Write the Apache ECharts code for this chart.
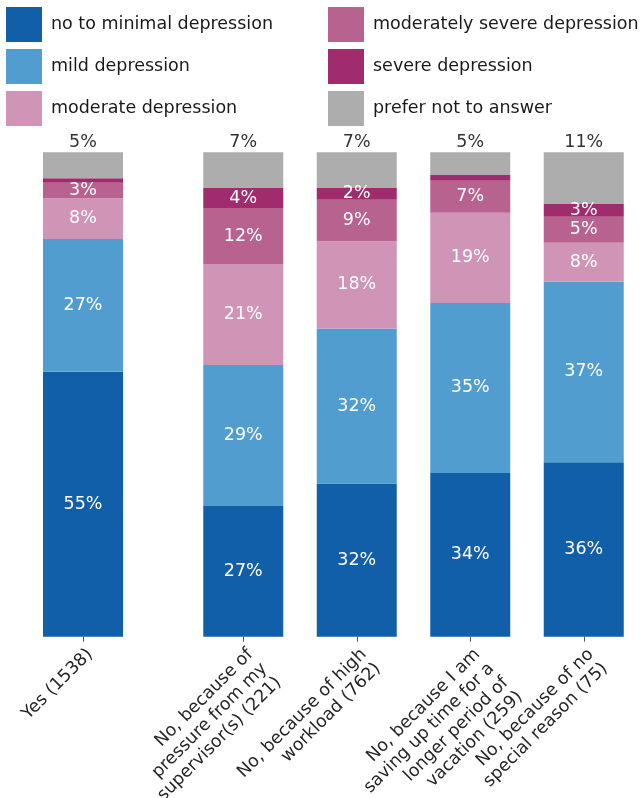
<!DOCTYPE html>
<html>
<head>
<meta charset="utf-8">
<script src="https://cdn.jsdelivr.net/npm/echarts@6/dist/echarts.min.js"></script>
<style>html,body{margin:0;padding:0;background:#fff;}#c{width:640px;height:798px;}</style>
</head>
<body>
<div id="c"></div>
<script>
const categories = [
  'Yes (1538)',
  'No, because of\npressure from my\nsupervisor(s) (221)',
  'No, because of high\nworkload (762)',
  'No, because I am\nsaving up time for a\nlonger period of\nvacation (259)',
  'No, because of no\nspecial reason (75)'
];
const seriesNames = ['no to minimal depression', 'mild depression', 'moderate depression',
  'moderately severe depression', 'severe depression', 'prefer not to answer'];
const noMinimal = [54.7, 27.0, 31.6, 33.8, 36.0];
const mild      = [27.4, 29.1, 32.0, 35.1, 37.3];
const moderate  = [8.4, 20.8, 18.0, 18.6, 8.0];
const modSevere = [3.2, 11.6, 8.6, 6.6, 5.4];
const severe    = [0.9, 4.1, 2.4, 1.2, 2.7];
const preferNot = [5.4, 7.4, 7.4, 4.7, 10.7];
const colors = ['#125fa9', '#529dcf', '#d094b6', '#b8628f', '#a12c6d', '#adadad'];

const values = [noMinimal, mild, moderate, modSevere, severe, preferNot];
const FONT = 'DejaVu Sans';
const FS = 17.5;

const chart = echarts.init(document.getElementById('c'), null, {renderer: 'canvas'});

function makeSeries(gridIdx, vals, i) {
  const isTop = i === 5;
  return {
    name: seriesNames[i],
    type: 'bar',
    stack: 'g' + gridIdx,
    xAxisIndex: gridIdx,
    yAxisIndex: gridIdx,
    barWidth: 80,
    data: vals,
    itemStyle: {color: colors[i]},
    emphasis: {disabled: true},
    label: {
      show: true,
      position: isTop ? 'top' : 'inside',
      distance: 1,
      color: isTop ? '#333333' : '#ffffff',
      fontFamily: FONT,
      fontSize: FS,
      formatter: p => (p.value >= 1.5 ? Math.round(p.value) + '%' : '')
    }
  };
}

const series = [];
values.forEach((v, i) => {
  series.push(makeSeries(0, v.slice(0, 1), i));
  series.push(makeSeries(1, v.slice(1), i));
});

function xAxisFor(gridIdx, cats) {
  return {
    type: 'category',
    gridIndex: gridIdx,
    data: cats,
    axisLine: {show: false},
    axisTick: {show: true, alignWithLabel: true, length: 5, lineStyle: {color: '#555', width: 1}},
    axisLabel: {
      interval: 0, rotate: 45, align: 'right', verticalAlign: 'top',
      margin: 8, fontFamily: FONT, fontSize: FS, lineHeight: 20, color: '#262626'
    },
    splitLine: {show: false}
  };
}
function yAxisFor(gridIdx) {
  return {type: 'value', gridIndex: gridIdx, min: 0, max: 100, show: false, splitLine: {show: false}};
}

const legendCommon = {
  orient: 'vertical', top: 7, padding: 0, itemWidth: 36, itemHeight: 35, itemGap: 7, icon: 'rect',
  textStyle: {fontFamily: FONT, fontSize: FS, color: '#1a1a1a', padding: [0, 0, 0, 4]},
  selectedMode: false
};

chart.setOption({
  animation: false,
  backgroundColor: '#ffffff',
  legend: [
    Object.assign({}, legendCommon, {left: 6, data: seriesNames.slice(0, 3)}),
    Object.assign({}, legendCommon, {left: 328, data: seriesNames.slice(3)})
  ],
  grid: [
    {left: 43, width: 80, top: 152.2, height: 484.5, containLabel: false, outerBoundsMode: 'none'},
    {left: 186.5, width: 454, top: 152.2, height: 484.5, containLabel: false, outerBoundsMode: 'none'}
  ],
  xAxis: [xAxisFor(0, categories.slice(0, 1)), xAxisFor(1, categories.slice(1))],
  yAxis: [yAxisFor(0), yAxisFor(1)],
  series: series
});
</script>
</body>
</html>
